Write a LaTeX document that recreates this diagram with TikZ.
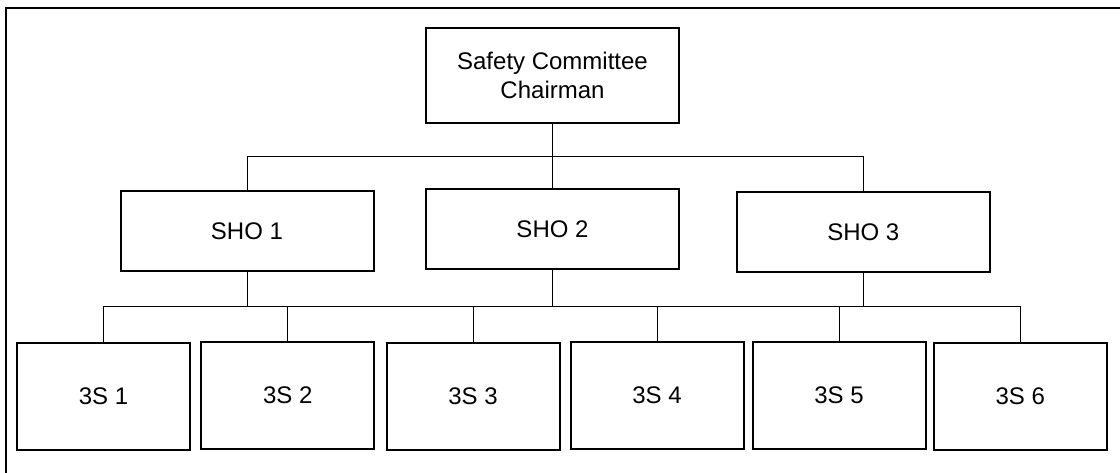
\documentclass[tikz,border=0pt]{standalone}
\usepackage{fontspec}
\setmainfont{Liberation Sans}
\begin{document}
\begin{tikzpicture}[x=1pt,y=-1pt,
  unit/.style={draw=black,line width=2pt,fill=white,inner sep=0pt,align=center,
    font=\fontsize{24}{29}\selectfont},
  head/.style={unit,minimum width=253pt,minimum height=95pt},
  officer/.style={unit,minimum width=253pt,minimum height=80pt},
  team/.style={unit,minimum width=173pt,minimum height=107pt},
  wire/.style={draw=black,line width=1pt}]
\useasboundingbox (0,0) rectangle (1120,473);
% page frame (top and left edges)
\draw[line width=1.3pt] (6,480) -- (6,8) -- (1130,8);

% bus levels
\coordinate (busTop) at (0,157);
\coordinate (busLow) at (0,306.5);

% boxes
\node[head] (chair) at (552.5,75.5) {Safety Committee\\Chairman};
\node[officer] (sho1) at (247,230.8) {SHO 1};
\node[officer] (sho2) at (552.5,229.5) {SHO 2};
\node[officer] (sho3) at (863.3,231.8) {SHO 3};
\node[team] (s1) at (103.5,396.3) {3S 1};
\node[team] (s2) at (287.7,395.5) {3S 2};
\node[team] (s3) at (473,396.6) {3S 3};
\node[team] (s4) at (657,395) {3S 4};
\node[team] (s5) at (839,395.5) {3S 5};
\node[team] (s6) at (1020.3,396.5) {3S 6};

% chairman to officers
\draw[wire] (chair.south) -- (chair.south |- busTop);
\draw[wire] (sho1.north) |- (sho3.north |- busTop) -- (sho3.north);
\draw[wire] (sho2.north) -- (sho2.north |- busTop);

% officers to teams
\draw[wire] (s1.north) |- (s6.north |- busLow) -- (s6.north);
\foreach \n in {sho1,sho2,sho3} \draw[wire] (\n.south) -- (\n.south |- busLow);
\foreach \n in {s2,s3,s4,s5} \draw[wire] (\n.north) -- (\n.north |- busLow);
\end{tikzpicture}
\end{document}
